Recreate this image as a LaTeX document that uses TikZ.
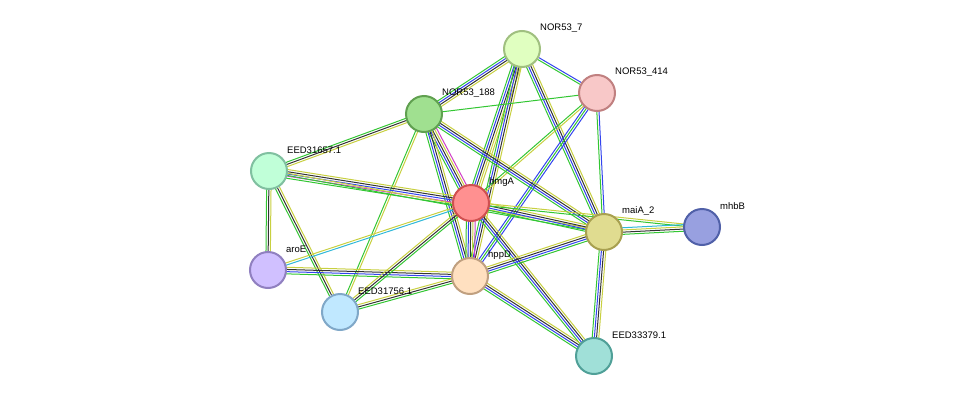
\documentclass[tikz,border=0pt]{standalone}
\usepackage{fontspec}
\setmainfont{Liberation Sans}
\usetikzlibrary{calc}
\pgfdeclarelayer{bg}\pgfsetlayers{bg,main}
\definecolor{sg}{HTML}{33C633}
\definecolor{sb}{HTML}{3344EE}
\definecolor{sy}{HTML}{C8D040}
\definecolor{sk}{HTML}{333333}
\definecolor{sm}{HTML}{D040C8}
\definecolor{sc}{HTML}{30B8D8}
\definecolor{f1}{HTML}{E0FFC0}\definecolor{d1}{HTML}{A0C080}
\definecolor{f2}{HTML}{F8C8C8}\definecolor{d2}{HTML}{C08080}
\definecolor{f3}{HTML}{A0E090}\definecolor{d3}{HTML}{60A050}
\definecolor{f4}{HTML}{C0FFD8}\definecolor{d4}{HTML}{80C0A0}
\definecolor{f5}{HTML}{FF9090}\definecolor{d5}{HTML}{D05050}
\definecolor{f6}{HTML}{E0DC90}\definecolor{d6}{HTML}{A8A050}
\definecolor{f7}{HTML}{98A0E0}\definecolor{d7}{HTML}{5060A8}
\definecolor{f8}{HTML}{D0C0FF}\definecolor{d8}{HTML}{9080C0}
\definecolor{f9}{HTML}{FFE0C0}\definecolor{d9}{HTML}{C0A080}
\definecolor{f10}{HTML}{C0E8FF}\definecolor{d10}{HTML}{80A8C8}
\definecolor{f11}{HTML}{A0E0D8}\definecolor{d11}{HTML}{50A098}
\tikzset{
  prot/.style={circle,minimum size=36pt,inner sep=0pt,line width=2pt,fill=f#1,draw=d#1},
  lab/.style={anchor=west,font=\fontsize{9.5pt}{11pt}\selectfont,inner sep=1pt},
  ln/.style={line width=1pt}
}
\newcommand{\medge}[4]{%
  \foreach \c [count=\i] in {#4}{%
    \pgfmathsetmacro{\off}{(\i-(#3+1)/2)*2.2}
    \draw[ln,\c] ($(#1)!\off pt!90:(#2)$) -- ($(#2)!\off pt!-90:(#1)$);
  }}
\begin{document}
\begin{tikzpicture}[x=1pt,y=-1pt]
\useasboundingbox (0,0) rectangle (975,402);
\node[prot=1] (n7) at (522,49) {};
\node[prot=2] (n414) at (597,93) {};
\node[prot=3] (n188) at (424,114) {};
\node[prot=4] (e57) at (269,171) {};
\node[prot=5] (hmgA) at (471,203) {};
\node[prot=6] (maiA) at (604,232) {};
\node[prot=7] (mhbB) at (702,227) {};
\node[prot=8] (aroE) at (268,270) {};
\node[prot=9] (hppD) at (470,276) {};
\node[prot=10] (e56) at (340,312) {};
\node[prot=11] (e79) at (594,356) {};
\foreach \n/\t in {n7/NOR53\_7,n414/NOR53\_414,n188/NOR53\_188,e57/EED31657.1,hmgA/hmgA,maiA/maiA\_2,mhbB/mhbB,aroE/aroE,hppD/hppD,e56/EED31756.1,e79/EED33379.1}
  \node[lab] (\n l) at ([shift={(17,-21)}]\n.center) {\t};
\begin{pgfonlayer}{bg}
\medge{n7}{n414}{2}{sg,sb}
\medge{n7}{n188}{4}{sg,sb,sk,sy}
\medge{n7}{hmgA}{5}{sg,sb,sk,sy,sy}
\medge{n7}{maiA}{4}{sg,sb,sk,sy}
\medge{n7}{hppD}{4}{sg,sb,sk,sy}
\medge{n414}{n188}{1}{sg}
\medge{n414}{hmgA}{2}{sg,sy}
\medge{n414}{maiA}{2}{sg,sb}
\medge{n414}{hppD}{3}{sb,sg,sb}
\medge{n188}{e57}{3}{sg,sk,sy}
\medge{n188}{hmgA}{5}{sg,sb,sk,sy,sm}
\medge{n188}{maiA}{4}{sg,sb,sk,sy}
\medge{n188}{hppD}{4}{sg,sb,sk,sy}
\medge{n188}{e56}{2}{sg,sy}
\medge{e57}{hmgA}{5}{sg,sm,sb,sk,sy}
\medge{e57}{aroE}{3}{sg,sk,sy}
\medge{e57}{e56}{3}{sg,sk,sy}
\medge{e57}{maiA}{2}{sg,sy}
\medge{aroE}{hmgA}{2}{sc,sy}
\medge{aroE}{hppD}{4}{sg,sb,sk,sy}
\medge{e56}{hmgA}{3}{sg,sk,sy}
\medge{e56}{hppD}{3}{sg,sk,sy}
\medge{hmgA}{hppD}{5}{sg,sb,sk,sy,sm}
\medge{hmgA}{maiA}{4}{sg,sb,sk,sy}
\medge{hmgA}{mhbB}{2}{sg,sy}
\medge{hmgA}{e79}{4}{sg,sb,sk,sy}
\medge{hppD}{maiA}{4}{sg,sb,sk,sy}
\medge{hppD}{e79}{4}{sg,sb,sk,sy}
\medge{maiA}{mhbB}{4}{sg,sk,sy,sc}
\medge{maiA}{e79}{4}{sg,sb,sk,sy}
\end{pgfonlayer}
\end{tikzpicture}
\end{document}
